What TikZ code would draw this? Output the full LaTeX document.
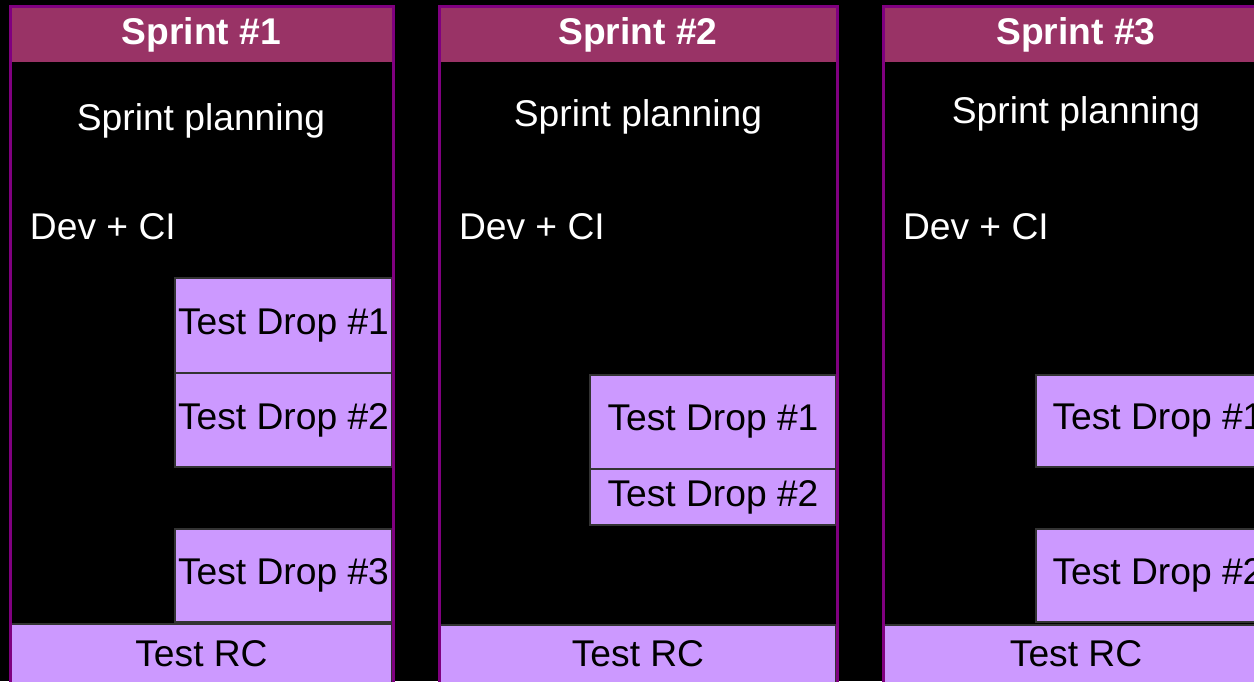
\documentclass[tikz,border=0pt]{standalone}
\usepackage{fontspec}
\setmainfont{Liberation Sans}
\usetikzlibrary{positioning}
\definecolor{sprinthead}{RGB}{153,51,102}
\definecolor{sprintline}{RGB}{128,0,128}
\definecolor{droplilac}{RGB}{204,153,255}

\begin{document}
\begin{tikzpicture}[
	x = 0.5pt,
	y = -0.5pt,
	node distance = 0pt,
	every node/.style = {
		font = \fontsize{18.6}{20}\selectfont,
		inner sep = 0pt,
		outer sep = 0pt
	},
	head/.style = {
		fill = sprinthead,
		text = white,
		font = \fontsize{18.6}{20}\selectfont\bfseries,
		minimum height = 27.5pt,
		anchor = north west
	},
	lane/.style = {
		draw = sprintline,
		line width = 1.5pt,
		minimum height = 345pt,
		anchor = north west
	},
	drop/.style = {
		draw = black!80,
		line width = 0.6pt,
		fill = droplilac,
		anchor = north west
	},
	lanetext/.style = {
		text = white
	}
	]
	
	\useasboundingbox (0,0) rectangle (1254,681);
	\clip (0,0) rectangle (1254,681);
	\fill[black] (0,0) rectangle (1254,681);
	
	\node (head_1) [head, minimum width = 190.5pt] at (11,7) {Sprint \#1};
	\node (plan_1) [lanetext] at (201,121) {Sprint planning};
	\node (dev_1) [lanetext, anchor = west] at (30,227) {Dev + CI};
	\node (drop_1a) [drop, minimum width = 108.5pt, minimum height = 47.5pt] at (175,278) {Test Drop \#1};
	\node (drop_1b) [drop, below = of drop_1a, minimum width = 108.5pt, minimum height = 47pt] {Test Drop \#2};
	\node (drop_1c) [drop, minimum width = 108.5pt, minimum height = 46.5pt] at (175,529) {Test Drop \#3};
	\node (rc_1) [drop, minimum width = 190.5pt, minimum height = 29.5pt] at (11,624) {Test RC};
	\node (lane_1) [lane, minimum width = 191.5pt] at (10,6) {};
	
	\node (head_2) [head, minimum width = 198pt] at (440,7) {Sprint \#2};
	\node (plan_2) [lanetext] at (638,117) {Sprint planning};
	\node (dev_2) [lanetext, anchor = west] at (459,227) {Dev + CI};
	\node (drop_2a) [drop, minimum width = 123pt, minimum height = 47pt] at (590,375) {Test Drop \#1};
	\node (drop_2b) [drop, below = of drop_2a, minimum width = 123pt, minimum height = 28pt] {Test Drop \#2};
	\node (rc_2) [drop, minimum width = 198pt, minimum height = 29pt] at (440,625) {Test RC};
	\node (lane_2) [lane, minimum width = 199pt] at (439,6) {};
	
	\node (head_3) [head, minimum width = 192pt] at (884,7) {Sprint \#3};
	\node (plan_3) [lanetext] at (1076,114) {Sprint planning};
	\node (dev_3) [lanetext, anchor = west] at (903,227) {Dev + CI};
	\node (drop_3a) [drop, minimum width = 122pt, minimum height = 46pt] at (1036,375) {Test Drop \#1};
	\node (drop_3b) [drop, minimum width = 122pt, minimum height = 46.5pt] at (1036,529) {Test Drop \#2};
	\node (rc_3) [drop, minimum width = 192pt, minimum height = 29pt] at (884,625) {Test RC};
	\node (lane_3) [lane, minimum width = 193pt] at (883,6) {};
	
\end{tikzpicture}
\end{document}
